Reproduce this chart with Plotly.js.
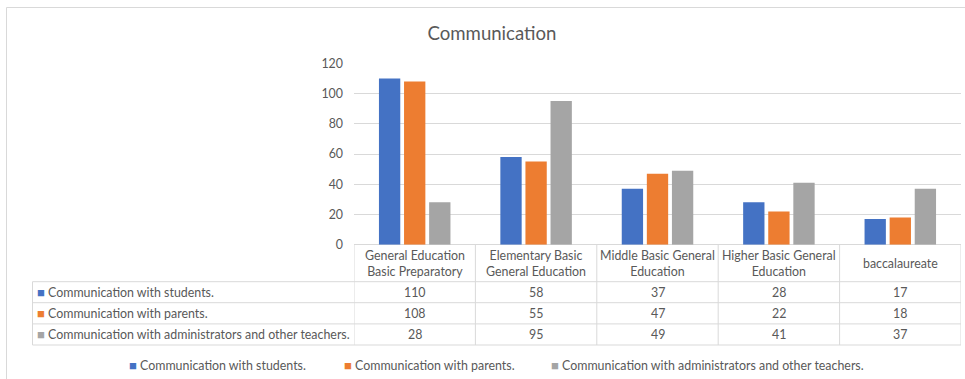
<!DOCTYPE html>
<html>
<head>
<meta charset="utf-8">
<script src="https://cdn.plot.ly/plotly-3.0.1.min.js"></script>
<style>html,body{margin:0;padding:0;background:#fff;}#chart{width:965px;height:379px;}</style>
</head>
<body>
<div id="chart"></div>
<script>
// ---- data ----
const categories = ["General Education Basic Preparatory", "Elementary Basic General Education", "Middle Basic General Education", "Higher Basic General Education", "baccalaureate"];
const categoryLabels = ["General Education<br>Basic Preparatory", "Elementary Basic<br>General Education", "Middle Basic General<br>Education", "Higher Basic General<br>Education", "baccalaureate"];
const seriesNames = ["Communication with students.", "Communication with parents.", "Communication with administrators and other teachers."];
const students = [110, 58, 37, 28, 17];
const parents = [108, 55, 47, 22, 18];
const adminTeachers = [28, 95, 49, 41, 37];
const yTicks = [0, 20, 40, 60, 80, 100, 120];

// ---- styling ----
const W = 965, H = 379;
const colors = ["#4472C4", "#ED7D31", "#A5A5A5"];
const textColor = "#595959";
const lineColor = "#D9D9D9";
const fontFam = "Lato, 'Open Sans', sans-serif";
const fs = 12.4;
const px = x => x / W;
const py = y => 1 - y / H;

const plotLeft = 354, plotRight = 961, plotTop = 63.3, plotBottom = 244.7;
const tableLeft = 32.5;
const rowLines = [281.7, 302.7, 323.9, 345];
const legendX = [127, 342, 549];
const legendY = 364.5;

const seriesValues = [students, parents, adminTeachers];
const xIdx = categories.map((c, i) => i);

const traces = seriesValues.map((vals, s) => ({
  type: "bar",
  name: seriesNames[s],
  x: xIdx,
  y: vals,
  marker: {color: colors[s]},
  hoverinfo: "y+name"
}));

const shapes = [];
const annotations = [];
const key = c => '<span style="color:' + c + ';font-size:13px">■</span> ';

// outer frame
shapes.push({type: "rect", xref: "paper", yref: "paper", x0: px(6.5), x1: px(975), y0: py(7.5), y1: py(390),
  line: {color: lineColor, width: 1}, layer: "below"});

// table horizontal lines
rowLines.forEach(y => {
  shapes.push({type: "line", xref: "paper", yref: "paper", x0: px(tableLeft), x1: px(plotRight), y0: py(y), y1: py(y),
    line: {color: lineColor, width: 1}});
});
// table left border
shapes.push({type: "line", xref: "paper", yref: "paper", x0: px(tableLeft), x1: px(tableLeft), y0: py(rowLines[0]), y1: py(rowLines[3]),
  line: {color: lineColor, width: 1}});
// column separators (data x coords)
for (let i = 0; i <= categories.length; i++) {
  shapes.push({type: "line", xref: "x", yref: "paper", x0: i - 0.5, x1: i - 0.5, y0: py(plotBottom), y1: py(rowLines[3]),
    line: {color: lineColor, width: 1}});
}

// header labels
categoryLabels.forEach((lab, i) => {
  annotations.push({xref: "x", yref: "paper", x: i, y: py(263.5), text: lab, showarrow: false,
    xanchor: "center", yanchor: "middle", align: "center",
    font: {family: fontFam, size: fs, color: textColor}});
});

// row labels and values
const rowCenters = [292.2, 313.3, 334.4];
seriesValues.forEach((vals, s) => {
  annotations.push({xref: "paper", yref: "paper", x: px(tableLeft + 2), y: py(rowCenters[s]),
    text: key(colors[s]) + seriesNames[s], showarrow: false,
    xanchor: "left", yanchor: "middle", align: "left",
    font: {family: fontFam, size: fs, color: textColor}});
  vals.forEach((v, i) => {
    annotations.push({xref: "x", yref: "paper", x: i, y: py(rowCenters[s]), text: String(v), showarrow: false,
      xanchor: "center", yanchor: "middle",
      font: {family: fontFam, size: fs, color: textColor}});
  });
  // bottom legend
  annotations.push({xref: "paper", yref: "paper", x: px(legendX[s]), y: py(legendY),
    text: key(colors[s]) + seriesNames[s], showarrow: false,
    xanchor: "left", yanchor: "middle", align: "left",
    font: {family: fontFam, size: fs, color: textColor}});
});

const layout = {
  width: W, height: H,
  margin: {l: 0, r: 0, t: 0, b: 0},
  paper_bgcolor: "#ffffff",
  plot_bgcolor: "#ffffff",
  title: {text: "Communication", x: 492 / W, xanchor: "center", y: py(33), yanchor: "middle",
    font: {family: fontFam, size: 18.6, color: textColor}},
  barmode: "group",
  bargap: 0.38,
  bargroupgap: 0.15,
  showlegend: false,
  xaxis: {domain: [px(plotLeft), px(plotRight)], range: [-0.5, categories.length - 0.5],
    showticklabels: false, showgrid: false, zeroline: false, showline: false, ticks: "", fixedrange: true},
  yaxis: {domain: [py(plotBottom), py(plotTop)], range: [0, 120], tickvals: yTicks,
    showgrid: true, gridcolor: lineColor, gridwidth: 1, zeroline: true, zerolinecolor: lineColor, zerolinewidth: 1,
    showline: false, ticks: "", ticklabelstandoff: 10,
    tickfont: {family: fontFam, size: fs, color: textColor}, fixedrange: true},
  shapes: shapes,
  annotations: annotations
};

Plotly.newPlot("chart", traces, layout, {displayModeBar: false, staticPlot: true});
</script>
</body>
</html>
